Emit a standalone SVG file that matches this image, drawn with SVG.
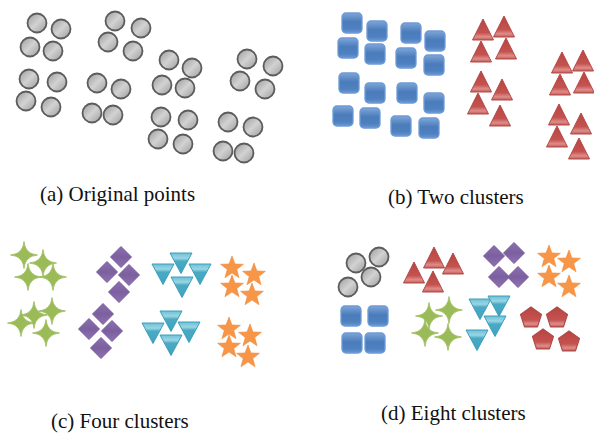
<svg xmlns="http://www.w3.org/2000/svg" width="594" height="434" viewBox="0 0 594 434">
<style>
.lbl{font-family:"Liberation Serif","Times New Roman",serif;font-size:21px;fill:#111}
</style>
<defs>
<linearGradient id="gGray" x1="0" y1="0" x2="1" y2="1"><stop offset="0" stop-color="#9a9a9a"/><stop offset="0.5" stop-color="#d2d2d2"/><stop offset="1" stop-color="#9c9c9c"/></linearGradient>
<linearGradient id="gBlue" x1="0" y1="0" x2="0" y2="1"><stop offset="0" stop-color="#7fa6d7"/><stop offset="0.45" stop-color="#4a7bbb"/><stop offset="0.8" stop-color="#4f81c0"/><stop offset="1" stop-color="#6a98d2"/></linearGradient>
<linearGradient id="gRed" x1="0" y1="0" x2="0" y2="1"><stop offset="0" stop-color="#b84542"/><stop offset="0.65" stop-color="#c4524f"/><stop offset="0.85" stop-color="#de8e8b"/><stop offset="1" stop-color="#c45855"/></linearGradient>
<linearGradient id="gCyan" x1="0" y1="0" x2="0" y2="1"><stop offset="0" stop-color="#6cc0d6"/><stop offset="0.25" stop-color="#9ad6e4"/><stop offset="0.4" stop-color="#4aaac4"/><stop offset="1" stop-color="#3fa3bf"/></linearGradient>
<linearGradient id="gPurple" x1="0" y1="0" x2="0" y2="1"><stop offset="0" stop-color="#8a6fae"/><stop offset="0.5" stop-color="#7c5f9f"/><stop offset="1" stop-color="#8d72b0"/></linearGradient>
<circle id="ci" r="9.5" fill="url(#gGray)" stroke="#5c5c5c" stroke-width="1.8"/>
<rect id="sq" x="-10" y="-10" width="20" height="20" rx="4" fill="url(#gBlue)" stroke="#6c9bd8" stroke-width="1.3"/>
<polygon id="tu" points="0,0 10.5,21 -10.5,21" fill="url(#gRed)" stroke="#b04a47" stroke-width="1" stroke-linejoin="round"/>
<polygon id="td" points="-11,0 11,0 0,20.5" fill="url(#gCyan)" stroke="#3b9fbb" stroke-width="1" stroke-linejoin="round"/>
<polygon id="dm" points="0,-10.5 10.5,0 0,10.5 -10.5,0" fill="url(#gPurple)" stroke="#7a5c9e" stroke-width="1"/>
<path id="st4" d="M0,-13.5 Q1,-1 13.5,0 Q1,1 0,13.5 Q-1,1 -13.5,0 Q-1,-1 0,-13.5 Z" fill="#9bbb59" stroke="#9bbb59" stroke-width="0.8" stroke-linejoin="round"/>
<polygon id="st5" points="0,-12 2.94,-4.05 11.41,-3.71 4.76,1.55 7.05,9.71 0,5 -7.05,9.71 -4.76,1.55 -11.41,-3.71 -2.94,-4.05" fill="#f79646" stroke="#f0883a" stroke-width="0.6"/>
<polygon id="pg" points="0,-11 10.46,-3.4 6.47,8.9 -6.47,8.9 -10.46,-3.4" fill="url(#gRed)" stroke="#b04a47" stroke-width="1.2" stroke-linejoin="round"/>
</defs>
<rect width="594" height="434" fill="#fff"/>

<g id="panel-a">
<use href="#ci" x="37" y="23"/><use href="#ci" x="61" y="29"/><use href="#ci" x="30" y="47"/><use href="#ci" x="53" y="51"/>
<use href="#ci" x="29" y="79"/><use href="#ci" x="57" y="82"/><use href="#ci" x="26" y="101"/><use href="#ci" x="51" y="107"/>
<use href="#ci" x="115" y="21"/><use href="#ci" x="141" y="28"/><use href="#ci" x="108" y="42"/><use href="#ci" x="133" y="51"/>
<use href="#ci" x="97" y="83"/><use href="#ci" x="121" y="89"/><use href="#ci" x="92" y="113"/><use href="#ci" x="113" y="115"/>
<use href="#ci" x="169" y="60"/><use href="#ci" x="192" y="68"/><use href="#ci" x="162" y="85"/><use href="#ci" x="185" y="88"/>
<use href="#ci" x="161" y="117"/><use href="#ci" x="188" y="120"/><use href="#ci" x="158" y="139"/><use href="#ci" x="183" y="144"/>
<use href="#ci" x="247" y="59"/><use href="#ci" x="273" y="66"/><use href="#ci" x="240" y="81"/><use href="#ci" x="265" y="89"/>
<use href="#ci" x="228" y="122"/><use href="#ci" x="253" y="127"/><use href="#ci" x="223" y="151"/><use href="#ci" x="244" y="153"/>
<text class="lbl" x="40" y="201">(a) Original points</text>
</g>

<g id="panel-b">
<use href="#sq" x="352" y="23"/><use href="#sq" x="377" y="31"/><use href="#sq" x="411" y="33"/><use href="#sq" x="435" y="41"/>
<use href="#sq" x="348" y="48"/><use href="#sq" x="375" y="54"/><use href="#sq" x="406" y="58"/><use href="#sq" x="434" y="65"/>
<use href="#sq" x="349" y="83"/><use href="#sq" x="375" y="93"/><use href="#sq" x="407" y="93"/><use href="#sq" x="434" y="103"/>
<use href="#sq" x="343" y="116"/><use href="#sq" x="370" y="118"/><use href="#sq" x="401" y="126"/><use href="#sq" x="429" y="128"/>
<use href="#tu" x="483" y="19"/><use href="#tu" x="504" y="16"/><use href="#tu" x="481" y="41"/><use href="#tu" x="506" y="38"/>
<use href="#tu" x="481" y="71"/><use href="#tu" x="502" y="79"/><use href="#tu" x="478" y="93"/><use href="#tu" x="500" y="105"/>
<use href="#tu" x="562" y="52"/><use href="#tu" x="583" y="50"/><use href="#tu" x="560" y="74"/><use href="#tu" x="584" y="72"/>
<use href="#tu" x="559" y="104"/><use href="#tu" x="581" y="113"/><use href="#tu" x="557" y="126"/><use href="#tu" x="579" y="138"/>
<text class="lbl" x="388" y="204">(b) Two clusters</text>
</g>

<g id="panel-c">
<use href="#st4" x="24" y="255"/><use href="#st4" x="43" y="263"/><use href="#st4" x="28" y="277"/><use href="#st4" x="53" y="277"/>
<use href="#st4" x="52" y="311"/><use href="#st4" x="34" y="315"/><use href="#st4" x="21" y="323"/><use href="#st4" x="46" y="333"/>
<use href="#dm" x="121" y="257"/><use href="#dm" x="107" y="272"/><use href="#dm" x="129" y="275"/><use href="#dm" x="119" y="292"/>
<use href="#dm" x="103" y="314"/><use href="#dm" x="89" y="329"/><use href="#dm" x="112" y="331"/><use href="#dm" x="101" y="348"/>
<use href="#td" x="181" y="253"/><use href="#td" x="163" y="264"/><use href="#td" x="200" y="264"/><use href="#td" x="182" y="277"/>
<use href="#td" x="171" y="311"/><use href="#td" x="153" y="323"/><use href="#td" x="189" y="322"/><use href="#td" x="171" y="335"/>
<use href="#st5" x="232" y="268"/><use href="#st5" x="254" y="275"/><use href="#st5" x="232" y="287"/><use href="#st5" x="252" y="295"/>
<use href="#st5" x="229" y="329"/><use href="#st5" x="250" y="336"/><use href="#st5" x="229" y="347"/><use href="#st5" x="248" y="357"/>
<text class="lbl" x="51" y="428">(c) Four clusters</text>
</g>

<g id="panel-d">
<use href="#ci" x="356" y="263"/><use href="#ci" x="379" y="257"/><use href="#ci" x="371" y="277"/><use href="#ci" x="348" y="287"/>
<use href="#sq" x="351" y="316"/><use href="#sq" x="378" y="316"/><use href="#sq" x="352" y="343"/><use href="#sq" x="375" y="343"/>
<use href="#tu" x="434" y="247"/><use href="#tu" x="414" y="262"/><use href="#tu" x="453" y="253"/><use href="#tu" x="433" y="271"/>
<use href="#dm" x="494" y="256"/><use href="#dm" x="514" y="253"/><use href="#dm" x="499" y="277"/><use href="#dm" x="518" y="277"/>
<use href="#st5" x="549" y="257"/><use href="#st5" x="569" y="262"/><use href="#st5" x="549" y="277"/><use href="#st5" x="569" y="287"/>
<use href="#st4" x="429" y="316"/><use href="#st4" x="449" y="310"/><use href="#st4" x="425" y="333"/><use href="#st4" x="448" y="337"/>
<use href="#td" x="480" y="299"/><use href="#td" x="499" y="296"/><use href="#td" x="495" y="316"/><use href="#td" x="477" y="330"/>
<use href="#pg" x="531" y="318"/><use href="#pg" x="557" y="318"/><use href="#pg" x="543" y="340"/><use href="#pg" x="569" y="342"/>
<text class="lbl" x="381" y="420">(d) Eight clusters</text>
</g>
</svg>
